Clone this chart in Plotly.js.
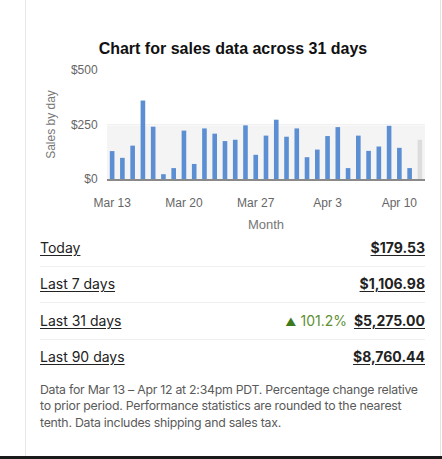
<!DOCTYPE html>
<html>
<head>
<meta charset="utf-8">
<script src="https://cdn.plot.ly/plotly-3.0.1.min.js"></script>
<style>
  html, body { margin:0; padding:0; background:#fff; }
  #wrap { position:relative; width:442px; height:459px; overflow:hidden; background:#fff; }
  #chart { position:absolute; left:0; top:0; width:442px; height:240px; }
  .frame { position:absolute; left:25px; top:0; width:414px; height:456px;
           border-left:1px solid #e8e8e8; border-right:1px solid #e4e4e4; pointer-events:none; }
  .bottom { position:absolute; left:0; top:456px; width:442px; height:3px; background:#1a1a1a; }
  .row { position:absolute; left:40px; width:385px; height:20px; font-family:Inter, "Open Sans", sans-serif;
         font-size:14px; color:#222; line-height:20px; }
  .row .lbl { position:absolute; left:0; top:0; text-decoration:underline; text-underline-offset:2px; }
  .row .val { position:absolute; right:0; top:0; font-weight:700; text-decoration:underline; text-underline-offset:2px; }
  .row .chg { position:absolute; right:78px; top:0; color:#5f8f33; }
  .row .chg .tri { color:#3d7a1c; font-size:11px; margin-right:4px; }
  .sep { position:absolute; left:40px; width:385px; height:1px; background:#efefef; }
  #foot { position:absolute; left:40px; top:382px; width:395px; font-family:Inter, "Open Sans", sans-serif;
          font-size:12.3px; letter-spacing:-0.25px; line-height:16.3px; color:#5a5a5a; white-space:nowrap; }
</style>
</head>
<body>
<div id="wrap">
  <div id="chart"></div>
  <div class="row" id="r0" style="top:238px"></div>
  <div class="sep" style="top:266px"></div>
  <div class="row" id="r1" style="top:274px"></div>
  <div class="sep" style="top:302px"></div>
  <div class="row" id="r2" style="top:311px"></div>
  <div class="sep" style="top:339px"></div>
  <div class="row" id="r3" style="top:347px"></div>
  <div id="foot">Data for Mar 13 – Apr 12 at 2:34pm PDT. Percentage change relative<br>to prior period. Performance statistics are rounded to the nearest<br>tenth. Data includes shipping and sales tax.</div>
  <div class="frame"></div>
  <div class="bottom"></div>
</div>
<script>
// ---- data ----
const days = ['2023-03-13','2023-03-14','2023-03-15','2023-03-16','2023-03-17','2023-03-18','2023-03-19',
              '2023-03-20','2023-03-21','2023-03-22','2023-03-23','2023-03-24','2023-03-25','2023-03-26',
              '2023-03-27','2023-03-28','2023-03-29','2023-03-30','2023-03-31','2023-04-01','2023-04-02',
              '2023-04-03','2023-04-04','2023-04-05','2023-04-06','2023-04-07','2023-04-08','2023-04-09',
              '2023-04-10','2023-04-11','2023-04-12'];
const sales = [128, 97, 153, 360, 240, 22, 50, 222, 69, 232, 208, 174, 180, 246, 111, 199, 272, 194, 232, 100,
               135, 197, 238, 50, 199, 129, 149, 244, 143, 50, 180];
const tickDays = ['2023-03-13','2023-03-20','2023-03-27','2023-04-03','2023-04-10'];
const tickLabels = ['Mar 13','Mar 20','Mar 27','Apr 3','Apr 10'];
const yTicks = [0, 250, 500];
const yTickLabels = ['$0', '$250', '$500'];
const bandTop = 245;

const periodLabels = ['Today', 'Last 7 days', 'Last 31 days', 'Last 90 days'];
const periodValues = ['$179.53', '$1,106.98', '$5,275.00', '$8,760.44'];
const periodChange = ['', '', '101.2%', ''];

// ---- table ----
periodLabels.forEach((l, i) => {
  const r = document.getElementById('r' + i);
  let html = '<span class="lbl">' + l + '</span>';
  if (periodChange[i]) html += '<span class="chg"><span class="tri">▲</span>' + periodChange[i] + '</span>';
  html += '<span class="val">' + periodValues[i] + '</span>';
  r.innerHTML = html;
});

// ---- chart ----
const colors = sales.map((v, i) => i === sales.length - 1 ? '#dcdcdc' : '#5b8ed3');
const trace = {
  type: 'bar', x: days, y: sales, marker: { color: colors }, hoverinfo: 'skip'
};
const layout = {
  width: 442, height: 240,
  margin: { l: 107, r: 17, t: 70, b: 61 },
  paper_bgcolor: 'rgba(0,0,0,0)', plot_bgcolor: 'rgba(0,0,0,0)',
  bargap: 0.55,
  showlegend: false,
  font: { family: 'Liberation Sans, Arial, sans-serif', color: '#666', size: 12 },
  title: {
    text: 'Chart for sales data across 31 days',
    font: { family: 'Liberation Sans, Arial, sans-serif', size: 16, color: '#111', weight: 700 },
    xref: 'container', x: 0.527, xanchor: 'center',
    yref: 'container', y: 1 - 48 / 240, yanchor: 'middle'
  },
  xaxis: {
    type: 'date',
    range: ['2023-03-12 12:00', '2023-04-12 12:00'],
    tickvals: tickDays, ticktext: tickLabels,
    showgrid: false, zeroline: false,
    showline: true, linecolor: '#8a8a8a', linewidth: 1.5,
    ticks: 'outside', ticklen: 12, tickcolor: 'rgba(0,0,0,0)',
    tickfont: { size: 12, color: '#666' },
    title: { text: 'Month', font: { size: 13, color: '#777' }, standoff: 11 }
  },
  yaxis: {
    range: [0, 500],
    tickvals: yTicks, ticktext: yTickLabels,
    showgrid: true, gridcolor: '#f0f0f0', zeroline: false,
    ticks: 'outside', ticklen: 6, tickcolor: 'rgba(0,0,0,0)',
    tickfont: { size: 12, color: '#666' },
    title: { text: 'Sales by day', font: { size: 12, color: '#777' }, standoff: 12 }
  },
  shapes: [{
    type: 'rect', xref: 'paper', x0: 0, x1: 1, yref: 'y', y0: 0, y1: bandTop,
    fillcolor: '#f4f4f4', line: { width: 0 }, layer: 'below'
  }]
};
Plotly.newPlot('chart', [trace], layout, { staticPlot: true, displayModeBar: false });
</script>
</body>
</html>
